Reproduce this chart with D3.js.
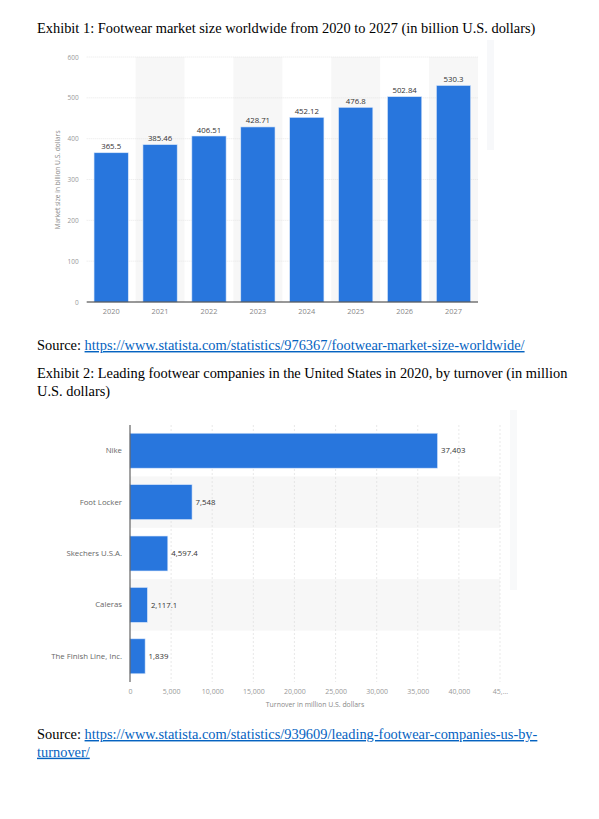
<!DOCTYPE html>
<html>
<head>
<meta charset="utf-8">
<script src="https://cdn.jsdelivr.net/npm/d3@7/dist/d3.min.js"></script>
<style>
  body { margin: 0; background: #fff; }
  svg { display: block; }
  .doc { font-family: "Liberation Serif", "Times New Roman", serif; font-size: 14.4px; fill: #000; }
  .link { fill: #0563c1; text-decoration: underline; }
  .ch { font-family: "Open Sans", "Noto Sans", sans-serif; }
</style>
</head>
<body>
<svg id="page" width="599" height="819"></svg>
<script>
// Exhibit 1 data
const years = ["2020", "2021", "2022", "2023", "2024", "2025", "2026", "2027"];
const marketSize = [365.5, 385.46, 406.51, 428.71, 452.12, 476.8, 502.84, 530.3];
const marketLabels = ["365.5", "385.46", "406.51", "428.71", "452.12", "476.8", "502.84", "530.3"];
const yTicks = [0, 100, 200, 300, 400, 500, 600];

// Exhibit 2 data
const companies = ["Nike", "Foot Locker", "Skechers U.S.A.", "Caleras", "The Finish Line, Inc."];
const turnover = [37403, 7548, 4597.4, 2117.1, 1839];
const turnoverLabels = ["37,403", "7,548", "4,597.4", "2,117.1", "1,839"];
const xTicks = [0, 5000, 10000, 15000, 20000, 25000, 30000, 35000, 40000, 45000];
const xTickLabels = ["0", "5,000", "10,000", "15,000", "20,000", "25,000", "30,000", "35,000", "40,000", "45,..."];

const blue = "#2876dd";
const svg = d3.select("#page");

// document text
function docText(x, y, parts) {
	const t = svg.append("text").attr("class", "doc").attr("x", x).attr("y", y);
	parts.forEach(p => {
		t.append("tspan").attr("class", p.link ? "link" : null).text(p.t);
	});
}
docText(37, 33, [{t: "Exhibit 1: Footwear market size worldwide from 2020 to 2027 (in billion U.S. dollars)"}]);
docText(37, 350, [{t: "Source: "}, {t: "https://www.statista.com/statistics/976367/footwear-market-size-worldwide/", link: true}]);
docText(37, 377.7, [{t: "Exhibit 2: Leading footwear companies in the United States in 2020, by turnover (in million"}]);
docText(37, 395.7, [{t: "U.S. dollars)"}]);
docText(37, 739, [{t: "Source: "}, {t: "https://www.statista.com/statistics/939609/leading-footwear-companies-us-by-", link: true}]);
docText(37, 756.7, [{t: "turnover/", link: true}]);

// ---------- Exhibit 1: vertical bars ----------
const g1 = svg.append("g").attr("class", "ch");
const x1 = d3.scaleBand().domain(years).range([86.7, 478]).paddingInner(0.3).paddingOuter(0.15);
const y1 = d3.scaleLinear().domain([0, 600]).range([302, 57]);

// faint strip at right edge
g1.append("rect").attr("x", 487).attr("y", 40).attr("width", 7).attr("height", 110)
	.attr("fill", "#f7f8fa");

// alternating column shading
const step1 = x1.step();
g1.selectAll(".shade").data(years.filter((d, i) => i % 2 === 1)).enter().append("rect")
	.attr("x", d => x1(d) - step1 * x1.paddingInner() / 2)
	.attr("y", y1(600))
	.attr("width", step1)
	.attr("height", y1(0) - y1(600))
	.attr("fill", "#f7f7f7");

// grid
g1.selectAll(".grid").data(yTicks.filter(d => d > 0)).enter().append("line")
	.attr("x1", 86.7).attr("x2", 478)
	.attr("y1", d => y1(d)).attr("y2", d => y1(d))
	.attr("stroke", "#e2e2e2").attr("stroke-width", 0.8).attr("stroke-dasharray", "1,1");

// y axis labels
const yAxis1 = d3.axisLeft(y1).tickValues(yTicks).tickSize(0).tickPadding(8);
const ya = g1.append("g").attr("transform", "translate(86.7,0)").call(yAxis1);
ya.select(".domain").remove();
ya.selectAll("text").attr("fill", "#999").attr("font-size", 6.5).attr("font-family", "Open Sans");

g1.append("text")
	.attr("transform", "translate(60,180) rotate(-90)")
	.attr("text-anchor", "middle")
	.attr("font-size", 6.6).attr("fill", "#888")
	.text("Market size in billion U.S. dollars");

// bars
g1.selectAll(".bar").data(years).enter().append("rect")
	.attr("x", d => x1(d))
	.attr("y", (d, i) => y1(marketSize[i]))
	.attr("width", x1.bandwidth())
	.attr("height", (d, i) => y1(0) - y1(marketSize[i]))
	.attr("fill", blue).attr("stroke", "#d7e6fa").attr("stroke-width", 0.6);

g1.selectAll(".val").data(years).enter().append("text")
	.attr("x", d => x1(d) + x1.bandwidth() / 2)
	.attr("y", (d, i) => y1(marketSize[i]) - 3.5)
	.attr("text-anchor", "middle")
	.attr("font-size", 7.8).attr("fill", "#333")
	.text((d, i) => marketLabels[i]);

// x axis
const xAxis1 = d3.axisBottom(x1).tickSize(0).tickPadding(7);
const xa = g1.append("g").attr("transform", "translate(0,302)").call(xAxis1);
xa.select(".domain").attr("stroke", "#333").attr("stroke-width", 1).attr("d", "M86.7,0H478");
xa.selectAll("text").attr("fill", "#888").attr("font-size", 7.4).attr("font-family", "Open Sans");

// ---------- Exhibit 2: horizontal bars ----------
const g2 = svg.append("g").attr("class", "ch");
const x2 = d3.scaleLinear().domain([0, 45000]).range([130, 500]);
const y2 = d3.scaleBand().domain(companies).range([425, 682]).paddingInner(0.32).paddingOuter(0.16);
const step2 = y2.step();

g2.append("rect").attr("x", 510).attr("y", 410).attr("width", 7).attr("height", 180)
	.attr("fill", "#f8f9fa");

// alternating row shading
g2.selectAll(".shade").data(companies.filter((d, i) => i % 2 === 1)).enter().append("rect")
	.attr("x", 130)
	.attr("y", d => y2(d) - step2 * y2.paddingInner() / 2)
	.attr("width", 500 - 130)
	.attr("height", step2)
	.attr("fill", "#f7f7f7");

// grid
g2.selectAll(".grid").data(xTicks.filter(d => d > 0)).enter().append("line")
	.attr("x1", d => x2(d)).attr("x2", d => x2(d))
	.attr("y1", 425).attr("y2", 682)
	.attr("stroke", "#e0e0e0").attr("stroke-width", 0.7).attr("stroke-dasharray", "2,2");

// bars
g2.selectAll(".bar").data(companies).enter().append("rect")
	.attr("x", x2(0))
	.attr("y", d => y2(d))
	.attr("width", (d, i) => x2(turnover[i]) - x2(0))
	.attr("height", y2.bandwidth())
	.attr("fill", blue).attr("stroke", "#d7e6fa").attr("stroke-width", 0.6);

g2.selectAll(".val").data(companies).enter().append("text")
	.attr("x", (d, i) => x2(turnover[i]) + 3.5)
	.attr("y", d => y2(d) + y2.bandwidth() / 2)
	.attr("dy", "0.35em")
	.attr("font-size", 7.8).attr("fill", "#333")
	.text((d, i) => turnoverLabels[i]);

// y axis
const yAxis2 = d3.axisLeft(y2).tickSize(0).tickPadding(8);
const yb = g2.append("g").attr("transform", "translate(130,0)").call(yAxis2);
yb.select(".domain").attr("stroke", "#444").attr("stroke-width", 1).attr("d", "M0,425V682");
yb.selectAll("text").attr("fill", "#666").attr("font-size", 7.8).attr("font-family", "Open Sans");

// x axis
const xAxis2 = d3.axisBottom(x2).tickValues(xTicks).tickFormat((d, i) => xTickLabels[i]).tickSize(0).tickPadding(7);
const xb = g2.append("g").attr("transform", "translate(0,682)").call(xAxis2);
xb.select(".domain").remove();
xb.selectAll("text").attr("fill", "#999").attr("font-size", 7).attr("font-family", "Open Sans");

g2.append("text")
	.attr("x", 315).attr("y", 707)
	.attr("text-anchor", "middle")
	.attr("font-size", 6.9).attr("fill", "#888")
	.text("Turnover in million U.S. dollars");
</script>
</body>
</html>
